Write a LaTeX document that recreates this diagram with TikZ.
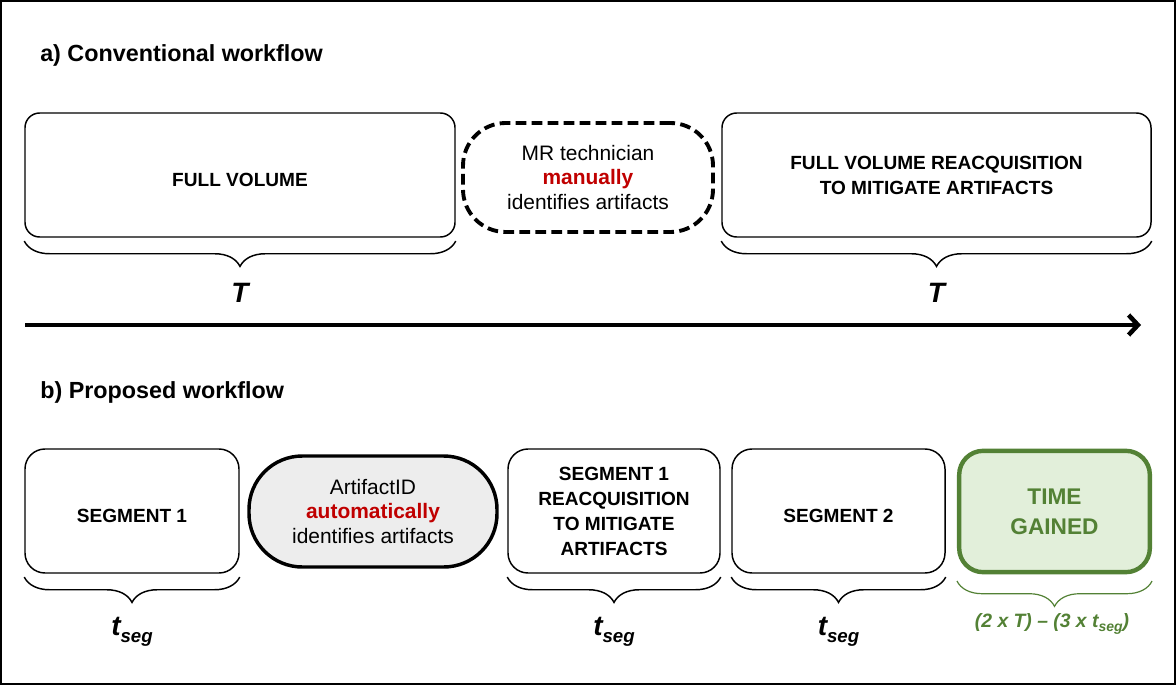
\documentclass[tikz,border=0pt]{standalone}
\usepackage{fontspec}
\setmainfont{Liberation Sans}
\usepackage{tikz}
\usetikzlibrary{arrows.meta, decorations.pathreplacing, positioning, calc}
\definecolor{darkred}{HTML}{C00000}
\definecolor{leafgreen}{HTML}{538135}
\definecolor{mintfill}{HTML}{E2EFDA}
\definecolor{pillgray}{HTML}{EDEDED}
\newcommand{\tseg}{t\raisebox{-0.45ex}{\fontsize{14}{14}\selectfont seg}}
\newcommand{\tsegsmall}{t\raisebox{-0.4ex}{\fontsize{10.5}{10.5}\selectfont seg}}

\begin{document}
\begin{tikzpicture}[x=0.75pt, y=-0.75pt,
  box/.style={draw, line width=1.1pt, rounded corners=11pt, align=center, inner sep=0pt,
    minimum height=93pt, font=\fontsize{14.3}{18.75}\selectfont\bfseries},
  oneline/.style={text height=17.5pt, text depth=0pt},
  pill/.style={draw, align=center, inner sep=0pt, font=\fontsize{15.7}{18.5}\selectfont},
  brc/.style={decorate, decoration={brace, amplitude=19pt, raise=2.5pt}, line width=1.1pt},
  lbl/.style={font=\fontsize{21}{21}\selectfont\bfseries\itshape},
  head/.style={anchor=west, inner sep=0pt, font=\fontsize{17.5}{20}\selectfont\bfseries}]
  \useasboundingbox (0,0) rectangle (1176,685);
  \draw[line width=1.2pt] (1,1) rectangle (1175,684);
  % a) conventional
  \node[head] (headA) at (40,55) {a) Conventional workflow};
  \node[box, oneline, minimum width=322.5pt] (fullvol) at (240,175) {FULL VOLUME};
  \node[pill, line width=2.9pt, dash pattern=on 8pt off 4pt, rounded corners=32pt,
    minimum width=187.5pt, minimum height=81.75pt] (manual) at (588,177.5)
    {MR technician\\ \textbf{\color{darkred}manually}\\ identifies artifacts};
  \node[box, minimum width=321.75pt] (reacqA) at (936.5,175) {FULL VOLUME REACQUISITION\\ TO MITIGATE ARTIFACTS};
  \draw[brc] (fullvol.south east) -- (fullvol.south west);
  \draw[brc] (reacqA.south east) -- (reacqA.south west);
  \node[lbl] (TA) at (240,293) {T};
  \node[lbl] (TB) at (936.5,293) {T};
  % time axis
  \coordinate (tl0) at (25,325); \coordinate (tl1) at (1141,325);
  \draw[line width=3.4pt, -{Straight Barb[length=7pt, width=15pt]}] (tl0) -- (tl1);
  % b) proposed
  \node[head] (headB) at (40,392) {b) Proposed workflow};
  \node[box, oneline, rounded corners=15pt, minimum width=160.5pt] (seg1) at (132,511) {SEGMENT 1};
  \node[pill, line width=2.6pt, fill=pillgray, rounded corners=40pt,
    minimum width=186pt, minimum height=83.25pt] (auto) at (373,511.5)
    {ArtifactID\\ \textbf{\color{darkred}automatically}\\ identifies artifacts};
  \node[box, rounded corners=15pt, minimum width=159pt] (reacqB) at (614,511)
    {SEGMENT 1\\ REACQUISITION\\ TO MITIGATE\\ ARTIFACTS};
  \node[box, oneline, rounded corners=15pt, minimum width=159.75pt] (seg2) at (838.5,511) {SEGMENT 2};
  \node[box, draw=leafgreen, fill=mintfill, text=leafgreen, line width=3.3pt, rounded corners=18pt,
    minimum width=143pt, minimum height=91pt, font=\fontsize{17}{22.5}\selectfont\bfseries]
    (gain) at (1054.5,511.5) {TIME\\ GAINED};
  \draw[brc] (seg1.south east) -- (seg1.south west);
  \draw[brc] (reacqB.south east) -- (reacqB.south west);
  \draw[brc] (seg2.south east) -- (seg2.south west);
  \draw[brc, draw=leafgreen, line width=0.9pt] ([yshift=-2.5pt]gain.south east) -- ([yshift=-2.5pt]gain.south west);
  \node[lbl] (ts1) at (132,632) {\tseg};
  \node[lbl] (ts2) at (614,632) {\tseg};
  \node[lbl] (ts3) at (838.5,632) {\tseg};
  \node[lbl, text=leafgreen, font=\fontsize{14.5}{14.5}\selectfont\bfseries\itshape] (gainlbl) at (1052,624)
    {(2 x T) -- (3 x \tsegsmall)};
\end{tikzpicture}
\end{document}
